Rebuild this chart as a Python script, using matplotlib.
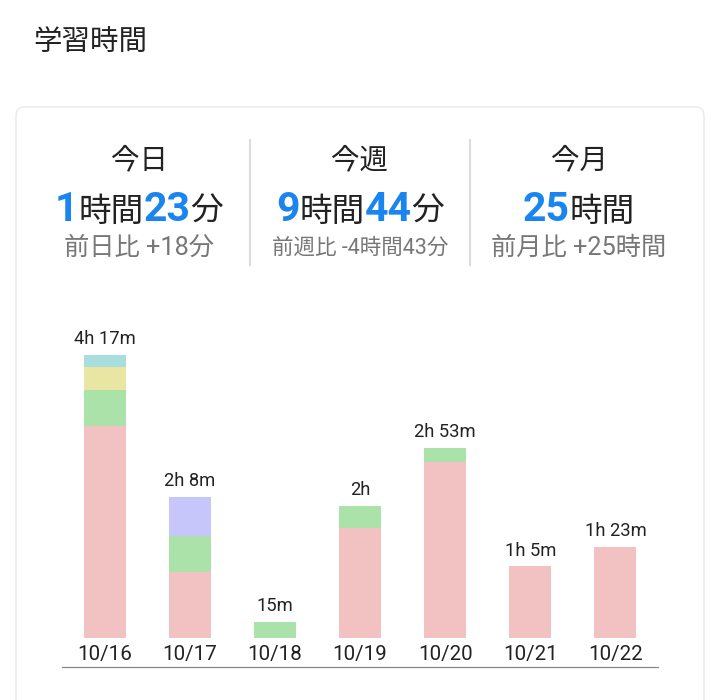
import matplotlib
matplotlib.use("Agg")
import matplotlib.pyplot as plt
from matplotlib.patches import FancyBboxPatch
from matplotlib.lines import Line2D

# ------------------------------
# Datos
# ------------------------------
dates = ["10/16", "10/17", "10/18", "10/19", "10/20", "10/21", "10/22"]
# minutos por materia
pink = [193, 60, 0, 100, 160, 65, 83]
green = [32, 33, 15, 20, 13, 0, 0]
yellow = [21, 0, 0, 0, 0, 0, 0]
purple = [0, 35, 0, 0, 0, 0, 0]
cyan = [11, 0, 0, 0, 0, 0, 0]

series = [pink, green, yellow, purple, cyan]
colors = ["#f2c2c2", "#aae2aa", "#e8e6a2", "#c6c6fa", "#a8dede"]

headers = ["今日", "今週", "今月"]
big_parts = [
    [("1", True), ("時間", False), ("23", True), ("分", False)],
    [("9", True), ("時間", False), ("44", True), ("分", False)],
    [("25", True), ("時間", False)],
]
subs = ["前日比 +18分", "前週比 -4時間43分", "前月比 +25時間"]

BLUE = "#1a85ee"
DARK = "#222222"
GREY = "#777777"
JP = ["Roboto", "Noto Sans CJK JP", "DejaVu Sans"]
JP_ONLY = ["Noto Sans CJK JP", "DejaVu Sans"]


def fmt(m):
    h, mm = divmod(m, 60)
    if h and mm:
        return f"{h}h {mm}m"
    if h:
        return f"{h}h"
    return f"{mm}m"


fig = plt.figure(figsize=(7.2, 7.0), dpi=100)
fig.patch.set_facecolor("white")

# fondo en coordenadas de pixel
bg = fig.add_axes([0, 0, 1, 1])
bg.set_xlim(0, 720)
bg.set_ylim(700, 0)
bg.axis("off")

bg.text(33, 42, "学習時間", family=JP_ONLY, fontsize=20.5, color=DARK,
        ha="left", va="center")

card = FancyBboxPatch((16, 107), 688, 640, boxstyle="round,pad=0,rounding_size=9",
                      facecolor="white", edgecolor="#ececec", linewidth=1.2)
bg.add_patch(card)

for sx in [250, 470]:
    bg.add_line(Line2D([sx, sx], [140, 265], color="#dddddd", linewidth=1.5))

col_x = [139, 360, 579]
fig.canvas.draw()
renderer = fig.canvas.get_renderer()

for i, cx in enumerate(col_x):
    bg.text(cx, 160, headers[i], family=JP_ONLY, fontsize=20.5, color=DARK,
            ha="center", va="center")
    # texto grande con partes de distinto tamaño
    pieces = []
    for txt, is_num in big_parts[i]:
        if is_num:
            t = bg.text(0, 221, txt, family="Roboto", fontweight="bold",
                        fontsize=29.5, color=BLUE, ha="left", va="baseline")
        else:
            t = bg.text(0, 221, txt, family=JP_ONLY, fontsize=23.5,
                        color=DARK, ha="left", va="baseline")
        pieces.append(t)
    widths = [p.get_window_extent(renderer).width for p in pieces]
    x = cx - sum(widths) / 2
    for p, w in zip(pieces, widths):
        p.set_x(x)
        x += w
    bg.text(cx, 248, subs[i], family=JP, fontsize=15.5 if i == 1 else 18.2,
            color=GREY, ha="center", va="center")

# ------------------------------
# Gráfico de barras
# ------------------------------
ax = fig.add_axes([62 / 720, 33 / 700, 596 / 720, 367 / 700])
ax.set_facecolor("none")
x = list(range(len(dates)))
bottom = [0] * len(dates)
for vals, c in zip(series, colors):
    ax.bar(x, vals, width=0.494, bottom=bottom, color=c, linewidth=0)
    bottom = [b + v for b, v in zip(bottom, vals)]

for xi, tot, d in zip(x, bottom, dates):
    ax.annotate(fmt(tot), (xi, tot), xytext=(0, 5), textcoords="offset points",
                ha="center", va="bottom", family="Roboto", fontsize=13.2,
                color=DARK)
    ax.annotate(d, (xi, 0), xytext=(0, -15.5), textcoords="offset points",
                ha="center", va="baseline", family="Roboto", fontsize=14.8,
                color=DARK)

ax.set_xlim(-0.5, 6.5)
ax.set_ylim(-26.3, 307)
for s in ["top", "left", "right"]:
    ax.spines[s].set_visible(False)
ax.spines["bottom"].set_color("#888888")
ax.spines["bottom"].set_linewidth(0.9)
ax.set_xticks([])
ax.set_yticks([])

fig.savefig("out.png", dpi=100)
